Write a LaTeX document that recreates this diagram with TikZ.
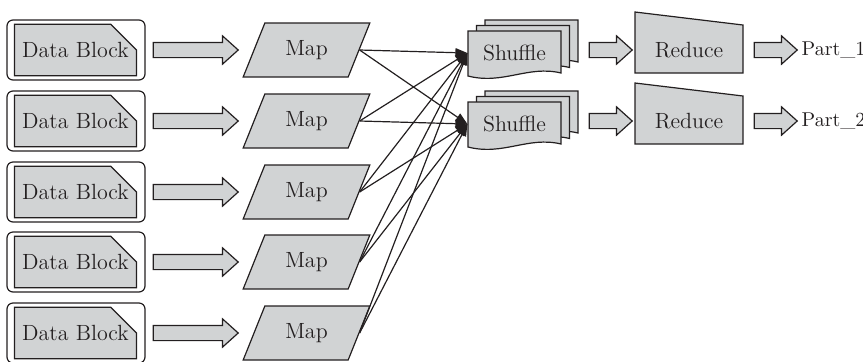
\documentclass[tikz,border=0pt]{standalone}
\usepackage{tikz}
\usetikzlibrary{shapes,shapes.arrows,shapes.misc,shapes.geometric,positioning,calc,arrows.meta}
\definecolor{boxgray}{RGB}{209,211,212}
\definecolor{inkline}{RGB}{35,31,32}

\tikzset{
  shuffledoc/.pic={
    \filldraw[fill=boxgray] (0,0) -- (93,0) -- (93,42) .. controls (60,34) and (35,54) .. (0,45) -- cycle;
  }
}

\begin{document}
\begin{tikzpicture}[x=0.5pt, y=-0.5pt, line width=0.6pt, color=inkline, font=\fontsize{11}{13}\selectfont,
  frame/.style={draw, rounded corners=3pt, minimum width=69pt, minimum height=30pt},
  block/.style={draw, fill=boxgray, chamfered rectangle, chamfered rectangle corners=north east, chamfered rectangle sep=9pt, minimum width=59.5pt, minimum height=22.5pt, inner sep=0pt},
  fatarrow/.style={draw, fill=boxgray, single arrow, single arrow head extend=3.25pt, single arrow tip angle=84, inner sep=3.5pt},
  mapbox/.style={draw, fill=boxgray, trapezium, trapezium left angle=66, trapezium right angle=114, trapezium stretches=true, minimum width=63.5pt, minimum height=27pt},
  link/.style={-{Triangle[length=6pt,width=4.5pt]}}]
    \useasboundingbox (0,0) rectangle (863,361);

    % Data blocks and maps
    \foreach \i/\y in {1/50,2/121,3/192,4/262,5/333} {
        \node[frame] (F\i) at (76,\y) {};
        \node[block] (D\i) at (75.5,\y) {Data Block};
        \node[fatarrow, minimum height=42.5pt, right=3.5pt of F\i] (A\i) {};
        \node[mapbox] (M\i) at (306.5,\y) {Map};
    }

    % Shuffle and reduce
    \foreach \j/\y/\r in {1/53/50,2/124/121} {
        \pic at (485,\y-33) {shuffledoc};
        \pic at (476.5,\y-27.5) {shuffledoc};
        \pic at (468,\y-22) {shuffledoc};
        \node[minimum width=46.5pt, minimum height=22pt] (S\j) at (514.5,\y) {Shuffle};
        \node[fatarrow, minimum height=21.5pt] (B\j) at (606.5,\r) {};
        \filldraw[fill=boxgray] (635,\r-38) -- (743,\r-25) -- (743,\r+23) -- (635,\r+23) -- cycle;
        \node (R\j) at (689,\r) {Reduce};
        \node[fatarrow, minimum height=21.5pt] (C\j) at (771.5,\r) {};
        \node[right=1.5pt of C\j, inner sep=0pt, font=\fontsize{10}{12}\selectfont] (P\j) {Part\_\j};
    }

    % Map outputs to shuffles
    \foreach \i in {1,...,5}
        \foreach \j in {1,2}
            \draw[link] (M\i.east) -- (S\j.west);
\end{tikzpicture}
\end{document}
